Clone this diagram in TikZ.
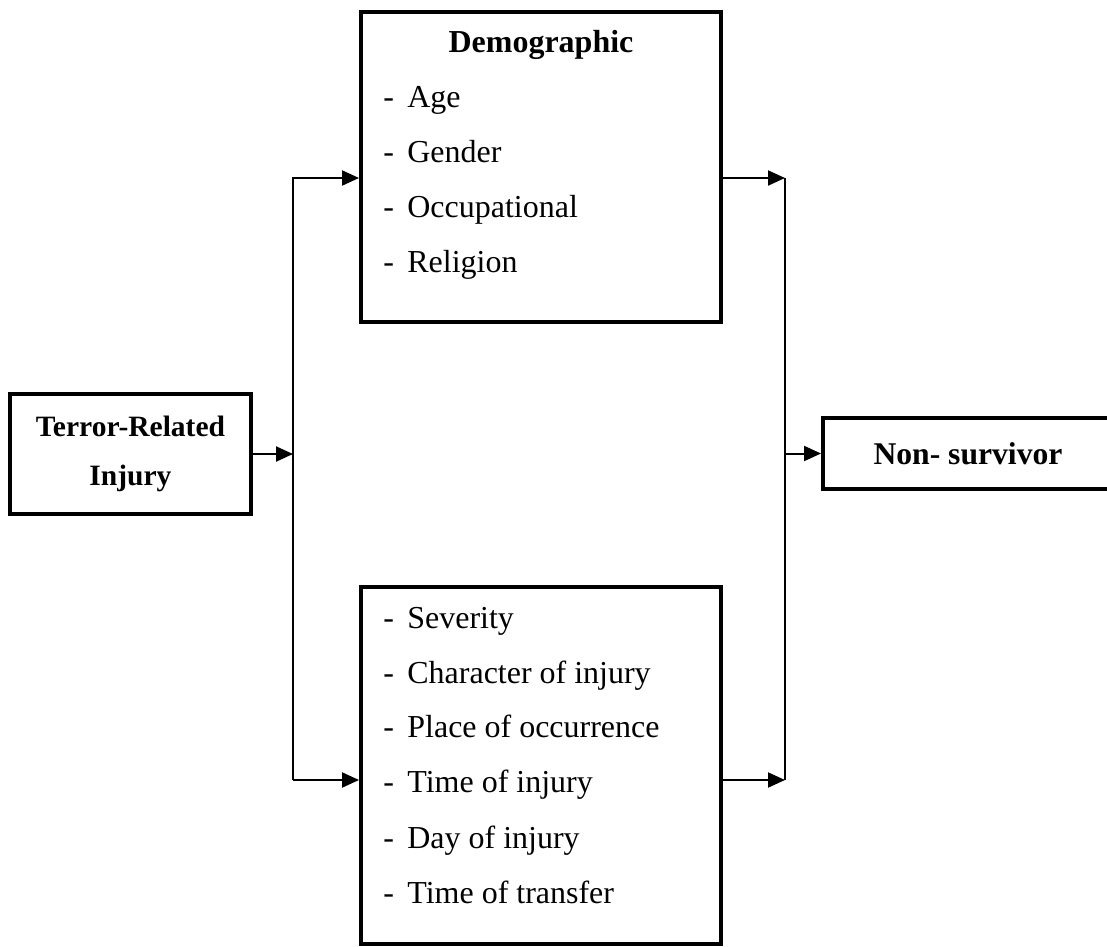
\documentclass[tikz,border=0pt]{standalone}
\usepackage{fontspec}
\setmainfont{Liberation Serif}
\usepackage{tikz}
\usetikzlibrary{positioning, calc, arrows.meta}
\tikzset{block/.style={draw, line width=0.08cm, inner sep=0pt, align=center, font=\bfseries\fontsize{18}{21}\selectfont},
line/.style={line width=0.04cm, -{Triangle[length=0.34cm,width=0.3cm]}},
bus/.style={line width=0.04cm},
entry/.style={anchor=base west, inner sep=0pt, font=\fontsize{18.2}{21}\selectfont},
heading/.style={anchor=base, inner sep=0pt, font=\bfseries\fontsize{18.2}{21}\selectfont}
}
\newcommand{\listdash}{\makebox[13.7pt][l]{-}}

\begin{document}
\begin{tikzpicture}[x=0.02cm, y=-0.02cm]
\useasboundingbox (0,0) rectangle (1107,947);
% the four boxes
\node[block, minimum width=4.82cm, minimum height=2.4cm, font=\bfseries\fontsize{16.8}{27.9}\selectfont] (injury) at (130.5,454) {Terror-Related\\Injury};
\node[block, minimum width=7.2cm, minimum height=6.2cm] (demo) at (541,167) {};
\node[block, minimum width=7.2cm, minimum height=7.14cm] (factors) at (541,765.5) {};
\node[block, minimum width=5.8cm, minimum height=1.42cm] (outcome) at (968,453.5) {Non- survivor};
% text of the demographic box
\node[heading] (demotitle) at (541,52) {Demographic};
\node[entry] (age) at (383,107) {\listdash Age};
\node[entry] (gender) at (383,162) {\listdash Gender};
\node[entry] (occupation) at (383,217) {\listdash Occupational};
\node[entry] (religion) at (383,272) {\listdash Religion};
% text of the injury box
\node[entry] (severity) at (383,628) {\listdash Severity};
\node[entry] (character) at (383,683) {\listdash Character of injury};
\node[entry] (place) at (383,737) {\listdash Place of occurrence};
\node[entry] (time) at (383,792) {\listdash Time of injury};
\node[entry] (day) at (383,848) {\listdash Day of injury};
\node[entry] (transfer) at (383,903) {\listdash Time of transfer};
% the two vertical lines
\coordinate (ltop) at (293,178);
\coordinate (lbot) at (293,780);
\coordinate (rtop) at (785,178);
\coordinate (rbot) at (785,780);
\draw[line] (injury.east) -- (injury.east -| ltop);
\draw[line] (lbot) -- (ltop) -- (ltop -| demo.west);
\draw[line] (lbot) -- (lbot -| factors.west);
\draw[bus] (rtop) -- (rbot);
\draw[line] (rtop -| demo.east) -- (rtop);
\draw[line] (rbot -| factors.east) -- (rbot);
\draw[line] (outcome.west -| rtop) -- (outcome.west);
\end{tikzpicture}
\end{document}
